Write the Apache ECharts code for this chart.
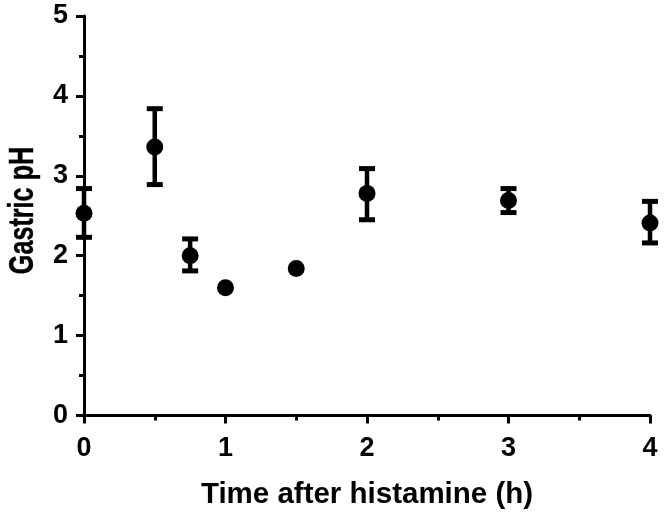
<!DOCTYPE html>
<html><head><meta charset="utf-8">
<script src="https://cdn.jsdelivr.net/npm/echarts@6/dist/echarts.min.js"></script>
<style>html,body{margin:0;padding:0;background:#fff}#c{width:665px;height:519px}</style>
</head><body><div id="c"></div>
<script>
var times = [0, 0.5, 0.75, 1, 1.5, 2, 3, 4];
var meanPH = [2.53, 3.36, 2.00, 1.60, 1.84, 2.78, 2.69, 2.41];
var upperPH = [2.84, 3.84, 2.21, 1.60, 1.84, 3.09, 2.84, 2.68];
var lowerPH = [2.23, 2.89, 1.81, 1.60, 1.84, 2.45, 2.54, 2.16];
var xTitle = 'Time after histamine (h)';
var yTitle = 'Gastric pH';

var font = '"Liberation Sans", Arial, sans-serif';
var points = times.map(function (t, i) { return [t, meanPH[i]]; });
var errs = times.map(function (t, i) { return [t, lowerPH[i], upperPH[i]]; });

var chart = echarts.init(document.getElementById('c'), null, {renderer: 'canvas'});
chart.setOption({
  animation: false,
  grid: {left: 84, right: 15, top: 16, bottom: 103.5, containLabel: false, outerBoundsMode: 'none'},
  graphic: [{
    type: 'text', x: 23, y: 210.5, rotation: Math.PI / 2, scaleX: 0.72, scaleY: 1,
    style: {text: yTitle, fill: '#000', stroke: '#000', lineWidth: 0.4, font: 'bold 35px "Liberation Sans", Arial, sans-serif', align: 'center', verticalAlign: 'middle'}
  }],
  xAxis: {
    type: 'value', min: 0, max: 4, interval: 1,
    axisLine: {show: true, onZero: false, lineStyle: {color: '#000', width: 3}},
    axisTick: {show: true, length: 8, lineStyle: {color: '#000', width: 3}},
    minorTick: {show: true, splitNumber: 2, length: 5, lineStyle: {color: '#000', width: 3}},
    splitLine: {show: false},
    axisLabel: {color: '#000', fontFamily: font, fontWeight: 'bold', fontSize: 27, margin: 20},
    name: xTitle, nameLocation: 'middle', nameGap: 64,
    nameTextStyle: {color: '#000', fontFamily: font, fontWeight: 'bold', fontSize: 29.5}
  },
  yAxis: {
    type: 'value', min: 0, max: 5, interval: 1,
    axisLine: {show: true, onZero: false, lineStyle: {color: '#000', width: 3}},
    axisTick: {show: true, length: 8, lineStyle: {color: '#000', width: 3}},
    minorTick: {show: true, splitNumber: 2, length: 5, lineStyle: {color: '#000', width: 3}},
    splitLine: {show: false},
    axisLabel: {color: '#000', fontFamily: font, fontWeight: 'bold', fontSize: 27, margin: 16}
  },
  series: [
    {
      type: 'custom',
      data: errs,
      clip: false,
      renderItem: function (params, api) {
        var x = api.value(0);
        var lo = api.coord([x, api.value(1)]);
        var hi = api.coord([x, api.value(2)]);
        if (Math.abs(lo[1] - hi[1]) < 1) return null;
        var hw = 8;
        return {
          type: 'group',
          children: [
            {type: 'line', shape: {x1: lo[0], y1: lo[1], x2: hi[0], y2: hi[1]}, style: {stroke: '#000', lineWidth: 4.5}},
            {type: 'line', shape: {x1: lo[0] - hw, y1: lo[1], x2: lo[0] + hw, y2: lo[1]}, style: {stroke: '#000', lineWidth: 5}},
            {type: 'line', shape: {x1: hi[0] - hw, y1: hi[1], x2: hi[0] + hw, y2: hi[1]}, style: {stroke: '#000', lineWidth: 5}}
          ]
        };
      },
      z: 3
    },
    {
      type: 'scatter',
      data: points,
      symbol: 'circle',
      symbolSize: 17,
      clip: false,
      itemStyle: {color: '#000', opacity: 1},
      z: 4
    }
  ]
});
</script></body></html>
